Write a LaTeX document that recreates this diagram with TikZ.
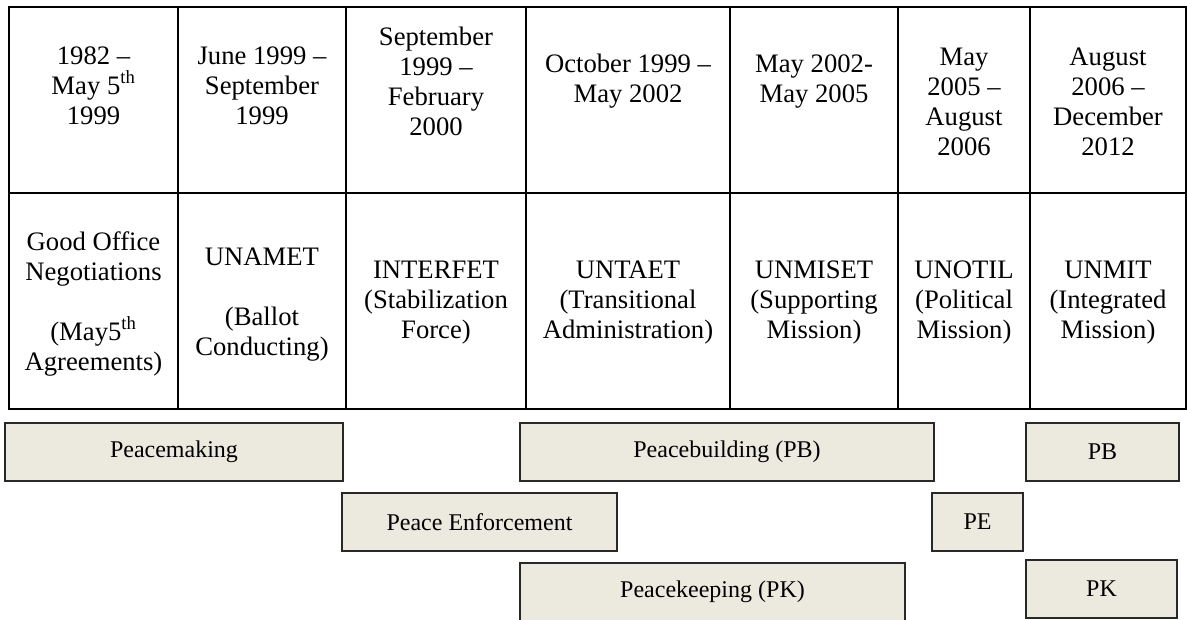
\documentclass[tikz,border=0pt]{standalone}
\usepackage{fontspec}
\setmainfont{Liberation Serif}
\definecolor{boxfill}{RGB}{236,233,223}
\definecolor{boxline}{RGB}{40,40,40}
\begin{document}
\begin{tikzpicture}[x=0.75pt,y=-0.75pt,
  cell/.style={font=\fontsize{20}{22.5}\selectfont, align=center, anchor=base, inner sep=0pt},
  grid/.style={line width=1.1pt, black},
  phase/.style={draw=boxline, fill=boxfill, line width=1pt, font=\fontsize{18}{21}\selectfont,
    minimum height=43.5pt, inner sep=0pt, anchor=center}]
\useasboundingbox (0,0) rectangle (1187,619);
\clip (0,0) rectangle (1187,619);
% table grid
\draw[grid] (9,7) rectangle (1186,409);
\draw[grid] (9,193) -- (1186,193);
\foreach \x in {178,346,526,730,898,1030} \draw[grid] (\x,7) -- (\x,409);
% row 1: dates (anchor = baseline of last line)
\node[cell] (d1) at (93.5,124) {1982 --\\May 5\textsuperscript{th}\\1999};
\node[cell] (d2) at (262,124) {June 1999 --\\September\\1999};
\node[cell] (d3) at (436,135) {September\\1999 --\\February\\2000};
\node[cell] (d4) at (628,102) {October 1999 --\\May 2002};
\node[cell] (d5) at (814,102) {May 2002-\\May 2005};
\node[cell] (d6) at (964,155) {May\\2005 --\\August\\2006};
\node[cell] (d7) at (1108,155) {August\\2006 --\\December\\2012};
% row 2: missions
\node[cell] (m1) at (93.5,370) {Good Office\\Negotiations\\[22.5pt](May5\textsuperscript{th}\\Agreements)};
\node[cell] (m2) at (262,355) {UNAMET\\[22.5pt](Ballot\\Conducting)};
\node[cell] (m3) at (436,338) {INTERFET\\(Stabilization\\Force)};
\node[cell] (m4) at (628,338) {UNTAET\\(Transitional\\Administration)};
\node[cell] (m5) at (814,338) {UNMISET\\(Supporting\\Mission)};
\node[cell] (m6) at (964,338) {UNOTIL\\(Political\\Mission)};
\node[cell] (m7) at (1108,338) {UNMIT\\(Integrated\\Mission)};
% phase boxes
\node[phase, minimum width=253.5pt] (pm) at (174,452) {Peacemaking};
\node[phase, minimum width=310.5pt] (pb) at (727,452) {Peacebuilding (PB)};
\node[phase, minimum width=114.75pt] (pb2) at (1102.5,452) {PB};
\node[phase, minimum width=206.25pt] (pe) at (479.5,522) {Peace Enforcement};
\node[phase, minimum width=68.25pt] (pe2) at (977.5,522) {PE};
\node[phase, minimum width=288.75pt] (pk) at (712.5,592) {Peacekeeping (PK)};
\node[phase, minimum width=113.25pt] (pk2) at (1101.5,589) {PK};
\end{tikzpicture}
\end{document}
